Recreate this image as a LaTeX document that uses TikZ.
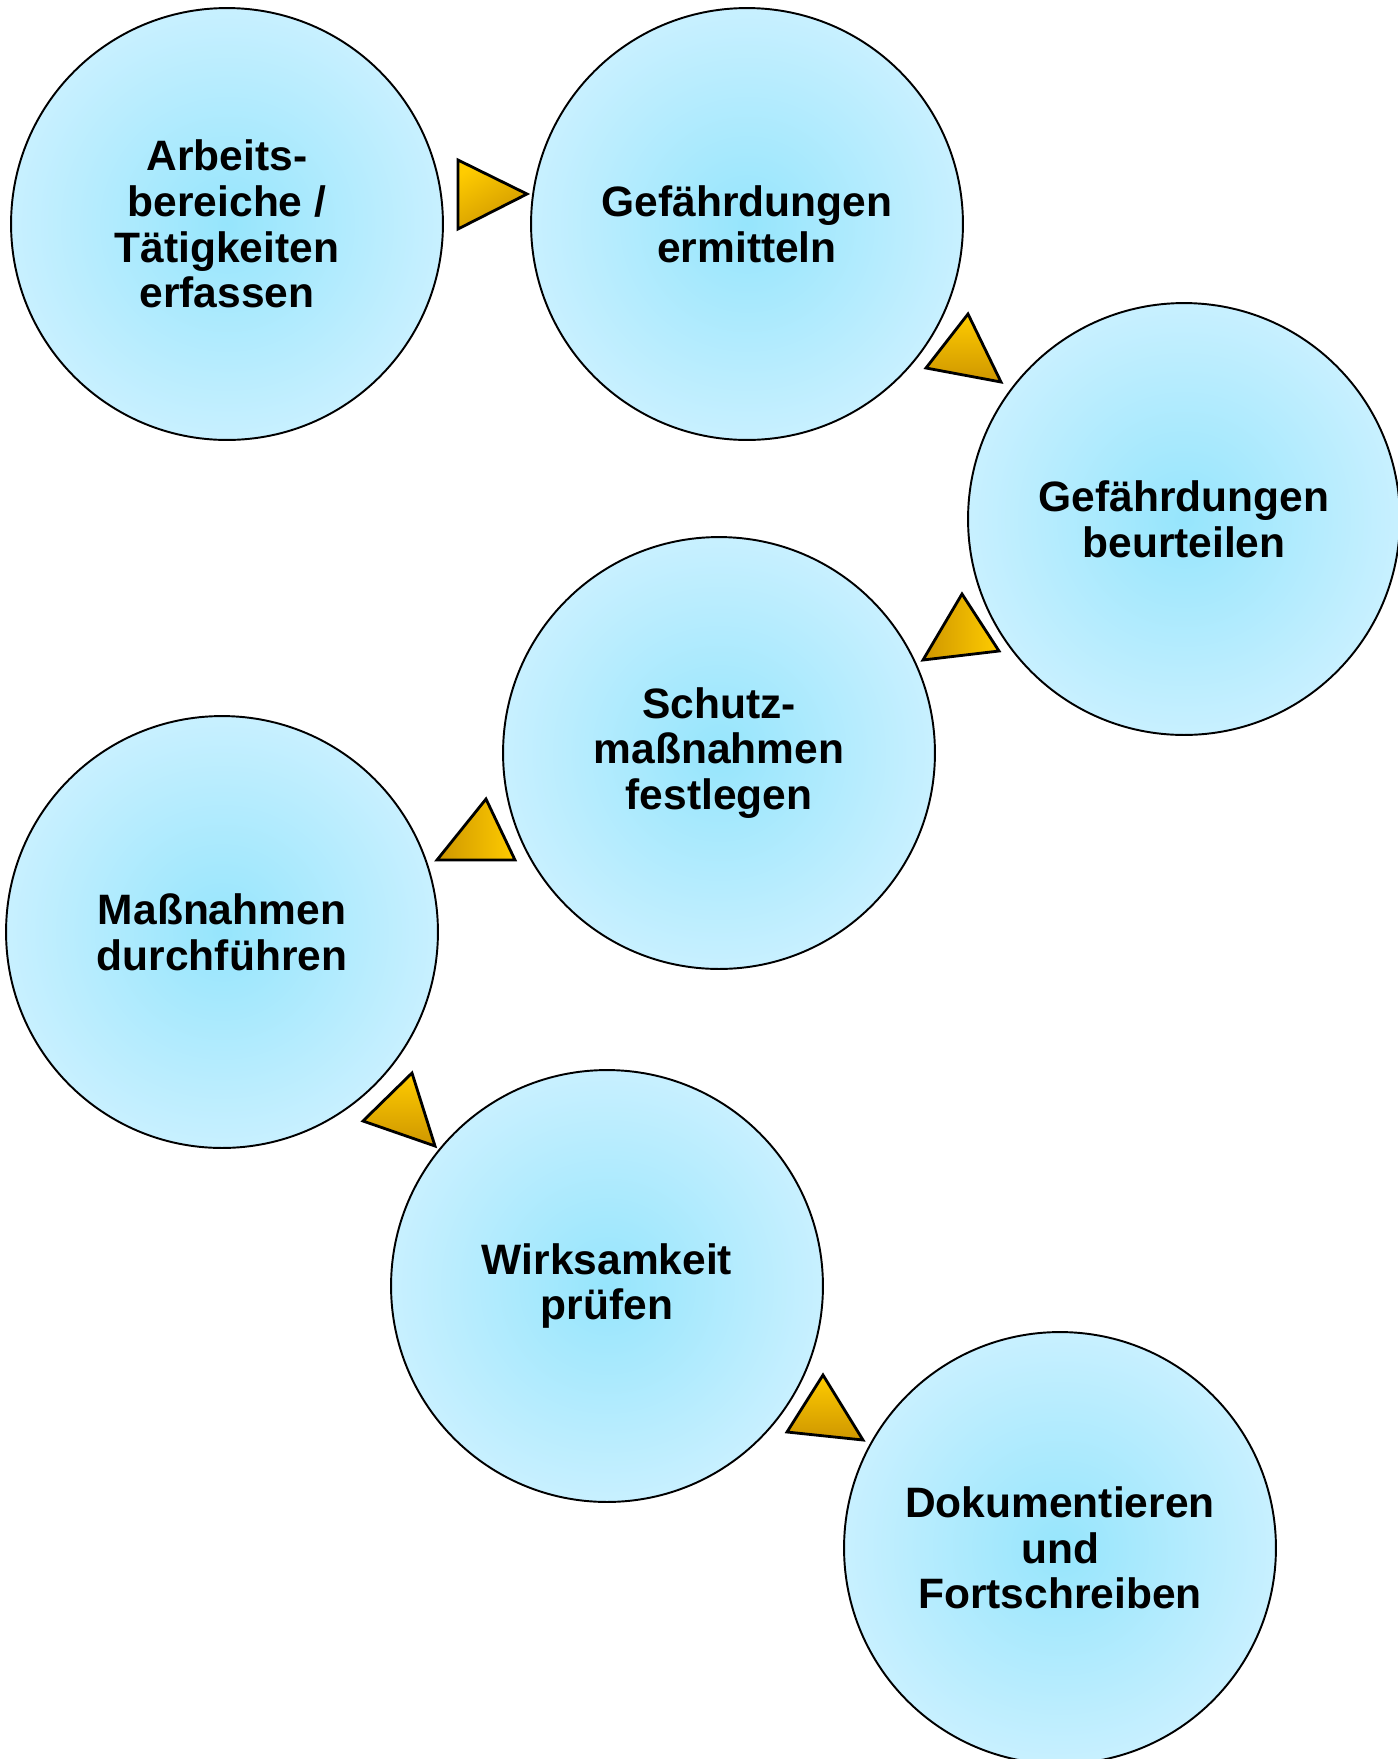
\documentclass[tikz,border=0pt]{standalone}
\usepackage{fontspec}
\setmainfont{Liberation Sans}
\usetikzlibrary{positioning}

\definecolor{kreisinnen}{RGB}{150,229,252}
\definecolor{kreisaussen}{RGB}{200,240,255}
\definecolor{goldhell}{RGB}{255,204,0}
\definecolor{golddunkel}{RGB}{206,150,0}

\tikzset{
    schritt/.style={circle, draw=black, line width=1.1pt, minimum size=8.64cm,
        inner color=kreisinnen, outer color=kreisaussen, align=center,
        font=\fontsize{24.2}{26}\selectfont\bfseries},
    pfeil/.style={draw=black, line width=1.6pt, line join=miter}
}

\begin{document}
\begin{tikzpicture}[x=0.02cm, y=-0.02cm]
		\useasboundingbox (0,0) rectangle (1398,1759);

		% Schritte der Gefährdungsbeurteilung
		\node[schritt] (erfassen) at (227,224) {Arbeits-\\bereiche /\\Tätigkeiten\\erfassen};
		\node[schritt] (ermitteln) at (747,224) {Gefährdungen\\ermitteln};
		\node[schritt] (beurteilen) at (1184,519) {Gefährdungen\\beurteilen};
		\node[schritt] (festlegen) at (719,753) {Schutz-\\maßnahmen\\festlegen};
		\node[schritt] (durchfuehren) at (222,932) {Maßnahmen\\durchführen};
		\node[schritt] (pruefen) at (607,1286) {Wirksamkeit\\prüfen};
		\node[schritt] (dokumentieren) at (1060,1548) {Dokumentieren\\und\\Fortschreiben};

		% Pfeilspitzen zwischen den Schritten
		\shadedraw[pfeil, top color=goldhell, bottom color=golddunkel, shading angle=30]
		(458,160) -- (527,194) -- (458,229) -- cycle;
		\shadedraw[pfeil, top color=goldhell, bottom color=golddunkel]
		(968,314) -- (1001,382) -- (926,368) -- cycle;
		\shadedraw[pfeil, left color=golddunkel, right color=goldhell]
		(962,594) -- (999,651) -- (923,660) -- cycle;
		\shadedraw[pfeil, left color=golddunkel, right color=goldhell]
		(486,799) -- (515,860) -- (437,860) -- cycle;
		\shadedraw[pfeil, top color=goldhell, bottom color=golddunkel]
		(412,1073) -- (435,1146) -- (363,1121) -- cycle;
		\shadedraw[pfeil, top color=goldhell, bottom color=golddunkel]
		(823,1375) -- (863,1440) -- (787,1432) -- cycle;
	\end{tikzpicture}
\end{document}
